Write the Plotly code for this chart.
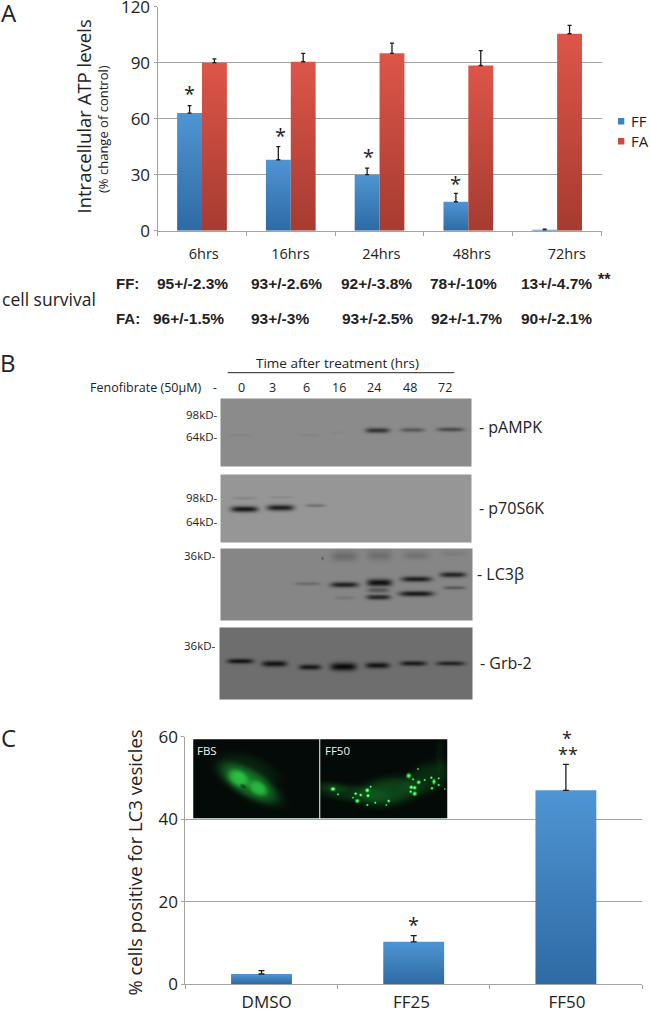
import numpy as np
import plotly.graph_objects as go

# ---- Panel A data
hours = ["6hrs", "16hrs", "24hrs", "48hrs", "72hrs"]
ff_atp = [63, 38, 30, 15.5, 0.4]
ff_err = [4, 7, 3.5, 4.5, 0.4]
fa_atp = [90, 90.5, 95, 88.5, 105.5]
fa_err = [2, 4.5, 5.5, 8, 4.5]
ff_survival = ["95+/-2.3%", "93+/-2.6%", "92+/-3.8%", "78+/-10%", "13+/-4.7%"]
fa_survival = ["96+/-1.5%", "93+/-3%", "93+/-2.5%", "92+/-1.7%", "90+/-2.1%"]

# ---- Panel C data
treatments = ["DMSO", "FF25", "FF50"]
lc3_pos = [2.5, 10.3, 47]
lc3_err = [0.8, 1.5, 6.3]

# ---- Panel B data: lane labels and blot contents
lanes = ["0", "3", "6", "16", "24", "48", "72"]
# (centre x, centre y, half width, half height, darkness)
pampk_bands = [(239, 435, 11, 1.5, .07), (309, 434.7, 11, 1.5, .07), (337, 432, 6, 1.5, .05),
               (377, 430, 12, 2.6, .95), (412, 429.5, 12, 2.2, .55), (450, 429, 13.5, 2.2, .68)]
p70_bands = [(244, 508.7, 13.5, 3, 1.0), (280, 507.3, 13.5, 3, .95), (315, 505, 10, 1.7, .28),
             (244, 497.7, 12, 1.5, .13), (280, 496.7, 12, 1.3, .1)]
lc3_bands = [(307, 583.3, 13, 1.8, .22), (344, 584.3, 14, 2.7, .85), (344, 597.3, 10, 2, .13),
             (379, 582.3, 12.5, 3.6, 1.0), (378, 589.5, 11, 3, .4), (378, 596.7, 12, 2.6, .8),
             (416, 578.7, 15, 2.7, .88), (416, 593.3, 17, 2.7, .92),
             (452.5, 574.3, 13, 2.7, .82), (454, 587.3, 11, 1.8, .38),
             (344, 556, 13, 5, .22), (379, 555, 12, 5, .2), (416, 555, 13, 4, .16), (454, 553, 12, 3, .08),
             (322, 558, 1, 1.5, .5)]
grb_bands = [(240, 660.7, 13, 2.5, .9), (274, 663.3, 12.5, 3, .9), (309.5, 666.7, 11, 2.7, .85),
             (343, 666.3, 13, 4, 1.0), (377, 665, 12, 3, .88), (413, 663, 13, 2.5, .82), (450, 663, 14, 2.3, .75)]
blots = [("pAMPK", 221, 471, 399, 466, 139, 92, pampk_bands),
         ("p70S6K", 221, 471, 475, 542, 150, 125, p70_bands),
         ("LC3", 221, 472, 549, 620, 134, 118, lc3_bands),
         ("Grb-2", 220, 472, 628, 699, 110, 100, grb_bands)]

# ---- Panel C inset contents: (x, y, x radius, y radius, angle deg, brightness)
fbs_blobs = [(250, 768, 30, 12, 20, .06), (249, 783.3, 32, 12.5, 30, .3), (238.3, 778.3, 11, 7.5, 30, .36),
             (258.3, 788.3, 10, 6.5, 30, .33), (243, 786, 3, 2, 30, -.25)]
ff50_blobs = [(388, 791.7, 30, 14, -10, .15), (351, 793, 35, 8, 5, .09), (428, 778, 25, 14, -25, .09),
              (440, 755, 4, 20, 0, .03), (332, 787, 14, 5, 10, .06)]
vesicles = [(333, 789, 2.3, 1.8), (338, 794.3, 1.0, 1.0), (355.7, 793.7, 1.4, 1.3), (360.7, 795, 1.4, 1.3),
            (357.3, 801, 2.0, 1.9), (367.3, 790.3, 1.9, 1.9), (368, 795.7, 1.5, 1.5), (370.7, 786.7, 1.0, 1.0),
            (367.3, 805, 1.1, 1.1), (375.3, 802.7, 1.0, 1.0), (388.7, 801, 1.3, 1.3), (386.3, 805, .9, .9),
            (408.7, 775.7, 2.1, 2.3), (413, 779.3, 1.0, 1.0), (418.7, 782.3, 1.8, 1.7), (411.3, 787.3, 1.7, 1.7),
            (414.7, 787.7, 1.7, 1.7), (414.7, 793.7, 2.0, 2.0), (410.7, 791.7, 1.2, 1.2), (434, 781.7, 1.6, 2.4),
            (431.3, 777.7, 1.2, 1.2), (438.7, 778.3, 1.0, 1.0), (438.7, 785, 1.1, 1.1), (432, 788.3, 1.3, 1.3),
            (424.7, 780, 1.0, 1.0), (418, 769, .9, .9), (353, 797.7, .9, .9), (444.7, 789, .8, .8)]


def raster_blot(x0, x1, y0, y1, top, bands):
    xs = np.arange(x0, x1 + 1)
    ys = np.arange(y0, y1 + 1)
    X, Y = np.meshgrid(xs, ys)
    dark = np.zeros_like(X, dtype=float)
    for cx, cy, hw, hh, d in bands:
        dark = np.maximum(dark, d * np.exp(-np.abs((X - cx) / hw) ** 4) * np.exp(-((Y - cy) / hh) ** 2))
    return xs, ys, dark


def raster_glow(x0, x1, y0, y1, blobs, dots=()):
    xs = np.arange(x0, x1 + .5, .5)
    ys = np.arange(y0, y1 + .5, .5)
    X, Y = np.meshgrid(xs, ys)
    glow = np.zeros_like(X, dtype=float)
    for cx, cy, rx, ry, ang, b in blobs:
        t = np.radians(ang)
        u = (X - cx) * np.cos(t) + (Y - cy) * np.sin(t)
        v = -(X - cx) * np.sin(t) + (Y - cy) * np.cos(t)
        glow += b * np.exp(-((u / rx) ** 2 + (v / ry) ** 2) ** 2)
    for cx, cy, rx, ry in dots:
        glow += .85 * np.exp(-(((X - cx) / rx) ** 2 + ((Y - cy) / ry) ** 2) ** 1.5)
    return xs, ys, np.clip(glow, 0, 1)


FONT = "Open Sans"
BLUE, RED = "#3f83c2", "#c94a3f"
GRID = "#a3a3a3"
INK = "#222222"
err = dict(type="data", symmetric=False, color="#1c1c1c", thickness=1.3)

fig = go.Figure()
xa = list(range(len(hours)))
fig.add_bar(x=xa, y=ff_atp, name="FF", marker=dict(color=BLUE, line_width=0), xaxis="x", yaxis="y",
            error_y=dict(err, array=ff_err, arrayminus=[0] * 5, width=2))
fig.add_bar(x=xa, y=fa_atp, name="FA", marker=dict(color=RED, line_width=0), xaxis="x", yaxis="y",
            error_y=dict(err, array=fa_err, arrayminus=[0] * 5, width=2))
xc = list(range(len(treatments)))
fig.add_bar(x=xc, y=lc3_pos, name="LC3", width=0.4, marker=dict(color=BLUE, line_width=0), xaxis="x2", yaxis="y2",
            error_y=dict(err, array=lc3_err, arrayminus=[0] * 3, width=3))

gray_scale = [[0, "#000000"], [1, "#ffffff"]]
for name, x0, x1, y0, y1, top, span, bands in blots:
    xs, ys, dark = raster_blot(x0, x1, y0, y1, top, bands)
    level = top - span * dark
    fig.add_heatmap(x=xs, y=ys, z=level, colorscale=gray_scale, zmin=0, zmax=255, showscale=False,
                    xaxis="x3", yaxis="y3", name=name, hoverinfo="skip")

green_scale = [[0, "#040a07"], [.18, "#0f4d1c"], [.5, "#1f9a33"], [.8, "#38d84f"], [1, "#a6ffb0"]]
for blobs, dots, x0, x1 in [(fbs_blobs, (), 193.5, 319), (ff50_blobs, vesicles, 320.5, 447)]:
    xs, ys, glow = raster_glow(x0, x1, 739.5, 818, blobs, dots)
    fig.add_heatmap(x=xs, y=ys, z=glow, colorscale=green_scale, zmin=0, zmax=1, showscale=False,
                    xaxis="x3", yaxis="y3", hoverinfo="skip")

notes = []


def note(x, y, text, size=12, color=INK, anchor="center", angle=0, family=FONT, bold=False):
    notes.append(dict(x=x, y=y, xref="x3", yref="y3", text=f"<b>{text}</b>" if bold else text, showarrow=False,
                      xanchor=anchor, yanchor="middle", textangle=angle,
                      font=dict(size=size, color=color, family=family)))


BOLD = "Liberation Sans"
# panel letters
note(8.7, 12, "A", 24)
note(8, 362, "B", 24)
note(8, 737, "C", 24)
# panel A text
note(82.5, 117, "Intracellular ATP levels", 18.5, angle=-90)
note(103, 129, "(% change of control)", 13, angle=-90)
note(628.5, 121, "FF", 15, anchor="left")
note(628.5, 141, "FA", 15, anchor="left")
for x, y in [(189, 93), (280, 135), (368.8, 156), (455.9, 183.5)]:
    note(x, y, "*", 20)
note(114, 283, "FF:", 15, anchor="left", family=BOLD, bold=True)
note(114, 318, "FA:", 15, anchor="left", family=BOLD, bold=True)
for x, t in zip([192, 286, 376, 463.8, 556], ff_survival):
    note(x, 283, t, 15.5, family=BOLD, bold=True)
for x, t in zip([188.3, 280.4, 377, 466.7, 556.7], fa_survival):
    note(x, 318, t, 15.5, family=BOLD, bold=True)
note(604, 279, "**", 16, family=BOLD, bold=True)
note(0, 299, "cell survival", 17.5, anchor="left")
# panel B text
note(337.7, 362.7, "Time after treatment (hrs)", 13.5)
for x, t in zip([241.3, 272.7, 306.7, 339.3, 374.3, 410, 445.3], lanes):
    note(x, 387.3, t, 12.5)
note(203, 387.3, "Fenofibrate (50μM)", 12.5, anchor="right")
note(215, 387.3, "-", 12)
for y, t in [(414, "98kD-"), (436, "64kD-"), (497.3, "98kD-"), (521.7, "64kD-")]:
    note(219.5, y, t, 11.5, anchor="right")
for y, t in [(555.7, "36kD-"), (645.7, "36kD-")]:
    note(218, y, t, 11.5, anchor="right")
note(476.7, 426.7, "- pAMPK", 16, anchor="left")
note(476.7, 507.7, "- p70S6K", 16, anchor="left")
note(475, 574, "- LC3β", 16, anchor="left")
note(477.7, 663, "- Grb-2", 16, anchor="left")
# panel C text
note(133.6, 863, "% cells positive for LC3 vesicles", 18.5, angle=-90)
note(194.5, 750, "FBS", 11.5, color="#f0f0f0", anchor="left")
note(322.7, 750, "FF50", 11.5, color="#f0f0f0", anchor="left")
note(413, 924.5, "*", 20)
note(567, 737.5, "*", 18)
note(568.3, 754, "**", 18)

shapes = [
    dict(type="rect", xref="x3", yref="y3", x0=618, x1=624.3, y0=118, y1=124.5, fillcolor=BLUE, line_width=0),
    dict(type="rect", xref="x3", yref="y3", x0=618, x1=624.3, y0=138, y1=144.5, fillcolor=RED, line_width=0),
    dict(type="line", xref="x3", yref="y3", x0=227.7, x1=454.3, y0=372.7, y1=372.7, line=dict(color="#222", width=1)),
]

axis_common = dict(showgrid=False, zeroline=False, showline=True, linecolor=GRID, linewidth=1.2,
                   ticklabeloverflow="allow", tickfont=dict(family=FONT, size=17, color=INK))
fig.update_layout(
    width=650, height=1010, margin=dict(l=0, r=0, t=0, b=0, autoexpand=False), showlegend=False,
    paper_bgcolor="white", plot_bgcolor="rgba(0,0,0,0)", barmode="group", bargap=0.44, bargroupgap=0,
    annotations=notes, shapes=shapes,
    xaxis=dict(axis_common, domain=[157.6 / 650, 601.5 / 650], range=[-.5, 4.5], anchor="y",
               tickvals=[0.02, 0.996, 2.02, 3.04, 4.11], ticktext=hours, ticks="", ticklabelstandoff=10,
               tickfont=dict(family=FONT, size=14.5, color=INK),
               minor=dict(tickvals=[-.5, .5, 1.5, 2.5, 3.5, 4.5], ticks="outside", ticklen=4, tickcolor=GRID, tickwidth=1)),
    yaxis=dict(axis_common, domain=[1 - 230.7 / 1010, 1 - 6.7 / 1010], range=[0, 120], anchor="x", dtick=30,
               showgrid=True, gridcolor=GRID, gridwidth=1.3, ticks="outside", ticklen=3, tickcolor=GRID),
    xaxis2=dict(axis_common, domain=[185.4 / 650, 642 / 650], range=[-.5, 2.5], anchor="y2",
                tickvals=[0.034, 0.986, 2.007], ticktext=treatments, ticks="", ticklabelstandoff=2,
                minor=dict(tickvals=[-.5, .5, 1.5, 2.5], ticks="outside", ticklen=4, tickcolor=GRID, tickwidth=1)),
    yaxis2=dict(axis_common, domain=[1 - 984.3 / 1010, 1 - 736.7 / 1010], range=[0, 60], anchor="x2", dtick=20,
                showgrid=True, gridcolor=GRID, gridwidth=1.3, ticks="outside", ticklen=3, tickcolor=GRID),
    xaxis3=dict(domain=[0, 1], range=[0, 650], visible=False, anchor="y3", fixedrange=True),
    yaxis3=dict(domain=[0, 1], range=[1010, 0], visible=False, anchor="x3", fixedrange=True),
)

post = """
document.body.style.margin = '0';
var svg = document.querySelector('.main-svg');
var ns = 'http://www.w3.org/2000/svg';
var defs = svg.querySelector('defs');
function grad(id, a, b) {
  var g = document.createElementNS(ns, 'linearGradient');
  g.setAttribute('id', id); g.setAttribute('x1', 0); g.setAttribute('y1', 0); g.setAttribute('x2', 0); g.setAttribute('y2', 1);
  [[0, a], [1, b]].forEach(function (s) {
    var st = document.createElementNS(ns, 'stop');
    st.setAttribute('offset', s[0]); st.setAttribute('stop-color', s[1]); g.appendChild(st);
  });
  defs.appendChild(g);
}
grad('gb', '#4f95d3', '#2e6aa4');
grad('gr', '#dd5549', '#a63b30');
document.querySelectorAll('.barlayer .point path').forEach(function (p) {
  var f = p.style.fill;
  p.style.fill = (f.indexOf('201') >= 0) ? 'url(#gr)' : 'url(#gb)';
});
"""
fig.write_html("out.html", post_script=post, config=dict(displayModeBar=False))
